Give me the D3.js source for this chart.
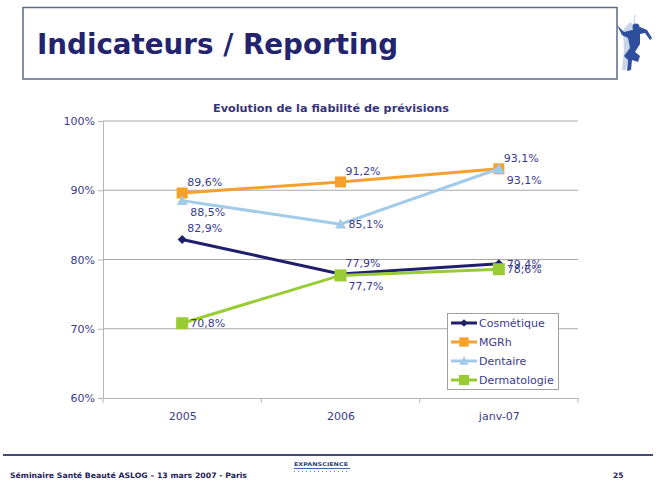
<!DOCTYPE html>
<html><head><meta charset="utf-8">
<script src="https://cdn.jsdelivr.net/npm/d3@7"></script>
<style>html,body{margin:0;padding:0;background:#fff;}svg{display:block;}</style>
</head><body>
<script>
const categories = ["2005", "2006", "janv-07"];
const seriesNames = ["Cosmétique", "MGRh", "Dentaire", "Dermatologie"];
const cosmetique = [82.9, 77.9, 79.4];
const mgrh = [89.6, 91.2, 93.1];
const dentaire = [88.5, 85.1, 93.1];
const dermatologie = [70.8, 77.7, 78.6];
const yTicks = [60, 70, 80, 90, 100];
const chartTitle = "Evolution de la fiabilité de prévisions";
const pageTitle = "Indicateurs / Reporting";
const footerText = "Séminaire Santé Beauté ASLOG – 13 mars 2007 - Paris";
const pageNumber = "25";
// label placement codes per point (ne = upper right, e = right, se = lower right)
const labelPlacement = [["ne","ne","e"],["ne","ne","ne"],["se","e","se"],["e","se","e"]];

const W = 658, H = 482;
const svg = d3.select("body").append("svg").attr("width", W).attr("height", H);

// Header box
svg.append("rect").attr("x", 23).attr("y", 7.5).attr("width", 594).attr("height", 71.5)
  .attr("fill", "#fff").attr("stroke", "#5d6888").attr("stroke-width", 1.5);
svg.append("text").attr("x", 37).attr("y", 54).text(pageTitle)
  .attr("font-family", "DejaVu Sans").attr("font-weight", "bold").attr("font-size", 28)
  .attr("fill", "#24246e").attr("textLength", 361).attr("lengthAdjust", "spacingAndGlyphs");

// Dancer silhouette (decorative)
const dg = svg.append("g");
dg.append("path").attr("d", "M623,30 L630,22 L634,25 L632,40 L628,58 L626,70 L622,70 L624,50 Z").attr("fill", "#c9d5e6");
dg.append("line").attr("x1", 635).attr("y1", 15).attr("x2", 633).attr("y2", 30).attr("stroke", "#d0d8e4").attr("stroke-width", 1.5);
dg.append("path").attr("d", "M617,25 L624,32 L632,30 L640,27 L647,30 L652,38 L650,40 L645,33 L640,34 L640,44 L635,52 L640,56 L638,62 L632,60 L631,70 L627,71 L628,60 L624,56 L630,48 L628,38 L622,35 Z")
  .attr("fill", "#2f4f9e");
dg.append("circle").attr("cx", 636).attr("cy", 27).attr("r", 3.5).attr("fill", "#2f4f9e");

// Chart
const plotLeft = 103, plotRight = 578, plotTop = 121, plotBottom = 398;
const x = d3.scalePoint().domain(categories).range([plotLeft, plotRight]).padding(0.5);
const y = d3.scaleLinear().domain([60, 100]).range([plotBottom, plotTop]);
const textCol = "#3a3a90";

svg.append("text").attr("x", 331).attr("y", 112).attr("text-anchor", "middle").text(chartTitle)
  .attr("font-family", "DejaVu Sans").attr("font-weight", "bold").attr("font-size", 10.5)
  .attr("fill", "#34347e").attr("textLength", 236).attr("lengthAdjust", "spacingAndGlyphs");

// gridlines
svg.append("g").selectAll("line").data(yTicks.filter(d => d > 60)).join("line")
  .attr("x1", plotLeft).attr("x2", plotRight).attr("y1", d => y(d)).attr("y2", d => y(d))
  .attr("stroke", "#a9a9a9").attr("stroke-width", 1);

// y axis
const yAxis = svg.append("g").attr("transform", `translate(${plotLeft},0)`)
  .call(d3.axisLeft(y).tickValues(yTicks).tickFormat(d => d + "%").tickSize(5).tickPadding(3));
yAxis.select(".domain").attr("stroke", "#b5b5b5");
yAxis.selectAll(".tick line").attr("stroke", "#b5b5b5");
yAxis.selectAll("text").attr("font-family", "DejaVu Sans").attr("font-size", 11).attr("fill", textCol);

// x axis
const xAxis = svg.append("g").attr("transform", `translate(0,${plotBottom})`)
  .call(d3.axisBottom(x).tickSize(0).tickPadding(14));
xAxis.select(".domain").attr("stroke", "#b5b5b5");
xAxis.selectAll("text").attr("font-family", "DejaVu Sans").attr("font-size", 11).attr("fill", textCol);
const step = x.step();
const bounds = d3.range(categories.length + 1).map(i => plotLeft + i * step);
xAxis.selectAll(".bt").data(bounds).join("line").attr("class", "bt")
  .attr("x1", d => d).attr("x2", d => d).attr("y1", 0).attr("y2", 5).attr("stroke", "#b5b5b5");

const series = [
  {name: seriesNames[0], values: cosmetique, color: "#1f1f6c", marker: "diamond", size: 9, width: 3},
  {name: seriesNames[1], values: mgrh, color: "#f7a02c", marker: "square", size: 11, width: 3},
  {name: seriesNames[2], values: dentaire, color: "#a2cbea", marker: "triangle", size: 11, width: 3},
  {name: seriesNames[3], values: dermatologie, color: "#99cc33", marker: "square", size: 12, width: 3}
];

function markerPath(type, s) {
  const h = s / 2;
  if (type === "diamond") return `M0,${-h} L${h},0 L0,${h} L${-h},0 Z`;
  if (type === "square") return `M${-h},${-h} H${h} V${h} H${-h} Z`;
  if (type === "triangle") return `M0,${-h} L${h},${h*0.8} L${-h},${h*0.8} Z`;
}

const line = d3.line().x((d, i) => x(categories[i])).y(d => y(d));
series.forEach(s => {
  svg.append("path").attr("d", line(s.values)).attr("fill", "none")
    .attr("stroke", s.color).attr("stroke-width", s.width);
  svg.append("g").selectAll("path").data(s.values).join("path")
    .attr("transform", (d, i) => `translate(${x(categories[i])},${y(d)})`)
    .attr("d", markerPath(s.marker, s.size)).attr("fill", s.color);
});
const offs = {ne: [5, -7], e: [8, 4], se: [8, 15]};
series.forEach((s, k) => {
  svg.append("g").selectAll("text").data(s.values).join("text")
    .attr("x", (d, i) => x(categories[i]) + offs[labelPlacement[k][i]][0])
    .attr("y", (d, i) => y(d) + offs[labelPlacement[k][i]][1])
    .text(d => d.toFixed(1).replace(".", ",") + "%")
    .attr("font-family", "DejaVu Sans").attr("font-size", 11).attr("fill", textCol);
});

// legend
const lg = svg.append("g").attr("transform", "translate(447,313)");
lg.append("rect").attr("x", 0.5).attr("y", 0.5).attr("width", 111).attr("height", 76)
  .attr("fill", "#fff").attr("stroke", "#a0a0a0");
series.forEach((s, k) => {
  const yy = 10 + k * 19;
  lg.append("line").attr("x1", 4).attr("x2", 30).attr("y1", yy).attr("y2", yy)
    .attr("stroke", s.color).attr("stroke-width", s.width);
  lg.append("path").attr("transform", `translate(17,${yy})`).attr("d", markerPath(s.marker, s.size * 0.85)).attr("fill", s.color);
  lg.append("text").attr("x", 32).attr("y", yy + 4).text(s.name)
    .attr("font-family", "DejaVu Sans").attr("font-size", 11).attr("fill", textCol);
});

// footer
svg.append("line").attr("x1", 3).attr("x2", 653).attr("y1", 455).attr("y2", 455)
  .attr("stroke", "#3f4a7a").attr("stroke-width", 2);
svg.append("text").attr("x", 10).attr("y", 478).text(footerText)
  .attr("font-family", "DejaVu Sans").attr("font-weight", "bold").attr("font-size", 7.5)
  .attr("fill", "#1e2158").attr("textLength", 237).attr("lengthAdjust", "spacingAndGlyphs");
svg.append("text").attr("x", 613).attr("y", 478).text(pageNumber)
  .attr("font-family", "DejaVu Sans").attr("font-weight", "bold").attr("font-size", 7.5).attr("fill", "#1e2158");
svg.append("text").attr("x", 294).attr("y", 466).text("EXPANSCIENCE")
  .attr("font-family", "DejaVu Sans").attr("font-weight", "bold").attr("font-size", 5)
  .attr("fill", "#2a3f8a").attr("textLength", 54).attr("lengthAdjust", "spacingAndGlyphs");
svg.append("line").attr("x1", 294).attr("x2", 350).attr("y1", 468.5).attr("y2", 468.5).attr("stroke", "#3a6ab0").attr("stroke-width", 1);
svg.append("line").attr("x1", 294).attr("x2", 348).attr("y1", 471.5).attr("y2", 471.5).attr("stroke", "#6a80b0").attr("stroke-width", 1).attr("stroke-dasharray", "1,3");
</script>
</body></html>
